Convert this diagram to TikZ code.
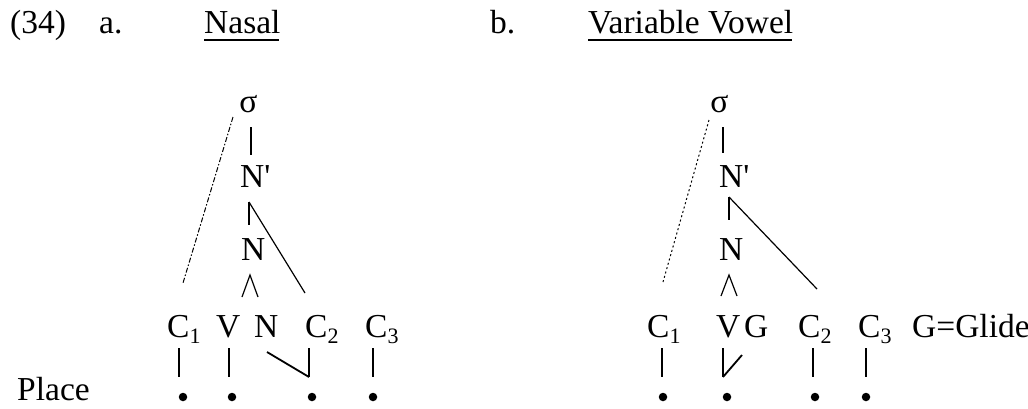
\documentclass[tikz,border=0pt]{standalone}
\usepackage{fontspec}
\setmainfont{Liberation Serif}
\newcommand\subs[1]{\raisebox{-0.18em}{\fontsize{22}{22}\selectfont #1}}
\newcommand\prm{\textquotesingle}
\tikzset{
  lbl/.style={inner sep=0pt, anchor=base west, font=\fontsize{33.5}{40}\selectfont},
  lblc/.style={inner sep=0pt, anchor=base, font=\fontsize{33.5}{40}\selectfont},
  assoc/.style={line width=1.8pt},
  thin/.style={line width=1.2pt},
  dsh/.style={line width=1pt, dash pattern=on 5pt off 2pt on 1.5pt off 2pt},
  dtt/.style={line width=1pt, dash pattern=on 2pt off 2.5pt},
  pt/.style={fill=black, circle, inner sep=0pt, minimum size=8.5pt},
  uline/.style={line width=2pt}
}
\begin{document}
\begin{tikzpicture}[x=1pt,y=-1pt]
\useasboundingbox (0,0) rectangle (1028,408);
% titles
\node[lbl] (num) at (10,33) {(34)};
\node[lbl] (a) at (99,33) {a.};
\node[lbl] (ta) at (204,33) {Nasal};
\node[lbl] (b) at (490,33) {b.};
\node[lbl] (tb) at (588,33) {Variable Vowel};
\coordinate (ua1) at (204,40); \coordinate (ua2) at (279,40);
\coordinate (ub1) at (588,40); \coordinate (ub2) at (792,40);
\draw[uline] (ua1) -- (ua2);
\draw[uline] (ub1) -- (ub2);
\node[lbl] (place) at (17,400) {Place};

% ---------- tree a ----------
\node[lblc] (sa) at (248.5,112) {σ};
\node[lbl] (npa) at (240,187) {N\prm};
\node[lbl] (na) at (241,260) {N};
\node[lbl] (c1a) at (167,337) {C\subs{1}};
\node[lbl] (va) at (216,337) {V};
\node[lbl] (nna) at (254,337) {N};
\node[lbl] (c2a) at (305,337) {C\subs{2}};
\node[lbl] (c3a) at (365,337) {C\subs{3}};
\coordinate (sa-b) at (251,127); \coordinate (npa-t) at (251,155);
\coordinate (npa-b) at (249,202); \coordinate (na-t) at (249,225);
\coordinate (c2a-t) at (305,293);
\coordinate (na-b) at (250,275); \coordinate (va-t) at (242,297); \coordinate (nna-t) at (258,297);
\coordinate (sa-l) at (233,117); \coordinate (c1a-t) at (183,283);
\draw[assoc] (sa-b) -- (npa-t);
\draw[assoc] (npa-b) -- (na-t);
\draw[thin] (npa-b) -- (c2a-t);
\draw[thin] (va-t) -- (na-b) -- (nna-t);
\draw[dsh] (sa-l) -- (c1a-t);
% place
\node[pt] (p1a) at (183,397) {};
\node[pt] (p2a) at (232,397) {};
\node[pt] (p3a) at (312,397) {};
\node[pt] (p4a) at (373,397) {};
\coordinate (c1a-b) at (179,348); \coordinate (p1a-t) at (179,377);
\coordinate (va-b) at (229,348); \coordinate (p2a-t) at (229,377);
\coordinate (c2a-b) at (309,348); \coordinate (p3a-t) at (309,377);
\coordinate (nna-b) at (267,352);
\coordinate (c3a-b) at (373,348); \coordinate (p4a-t) at (373,377);
\draw[assoc] (c1a-b) -- (p1a-t);
\draw[assoc] (va-b) -- (p2a-t);
\draw[assoc] (c2a-b) -- (p3a-t);
\draw[assoc] (nna-b) -- (p3a-t);
\draw[assoc] (c3a-b) -- (p4a-t);

% ---------- tree b ----------
\node[lblc] (sb) at (719.5,112) {σ};
\node[lbl] (npb) at (719,187) {N\prm};
\node[lbl] (nb) at (719,260) {N};
\node[lbl] (c1b) at (647,337) {C\subs{1}};
\node[lbl] (vb) at (716,337) {V};
\node[lbl] (gb) at (744,337) {G};
\node[lbl] (c2b) at (798,337) {C\subs{2}};
\node[lbl] (c3b) at (858,337) {C\subs{3}};
\node[lbl] (gl) at (912,337) {G=Glide};
\coordinate (sb-b) at (723,127); \coordinate (npb-t) at (723,153);
\coordinate (npb-b) at (729,197); \coordinate (nb-t) at (729,220);
\coordinate (c2b-t) at (817,289);
\coordinate (nb-b) at (729,275); \coordinate (vb-t) at (721,296); \coordinate (gb-t) at (737,296);
\coordinate (sb-l) at (709,120); \coordinate (c1b-t) at (663,282);
\draw[assoc] (sb-b) -- (npb-t);
\draw[assoc] (npb-b) -- (nb-t);
\draw[thin] (npb-b) -- (c2b-t);
\draw[thin] (vb-t) -- (nb-b) -- (gb-t);
\draw[dtt] (sb-l) -- (c1b-t);
\node[pt] (p1b) at (663,397) {};
\node[pt] (p2b) at (727,397) {};
\node[pt] (p3b) at (815,397) {};
\node[pt] (p4b) at (866,397) {};
\coordinate (c1b-b) at (662,348); \coordinate (p1b-t) at (662,377);
\coordinate (vb-b) at (723,348); \coordinate (p2b-t) at (723,377);
\coordinate (gb-b) at (742,355);
\coordinate (c2b-b) at (813,348); \coordinate (p3b-t) at (813,377);
\coordinate (c3b-b) at (866,348); \coordinate (p4b-t) at (866,377);
\draw[assoc] (c1b-b) -- (p1b-t);
\draw[assoc] (vb-b) -- (p2b-t);
\draw[assoc] (gb-b) -- (p2b-t);
\draw[assoc] (c2b-b) -- (p3b-t);
\draw[assoc] (c3b-b) -- (p4b-t);
\end{tikzpicture}
\end{document}
